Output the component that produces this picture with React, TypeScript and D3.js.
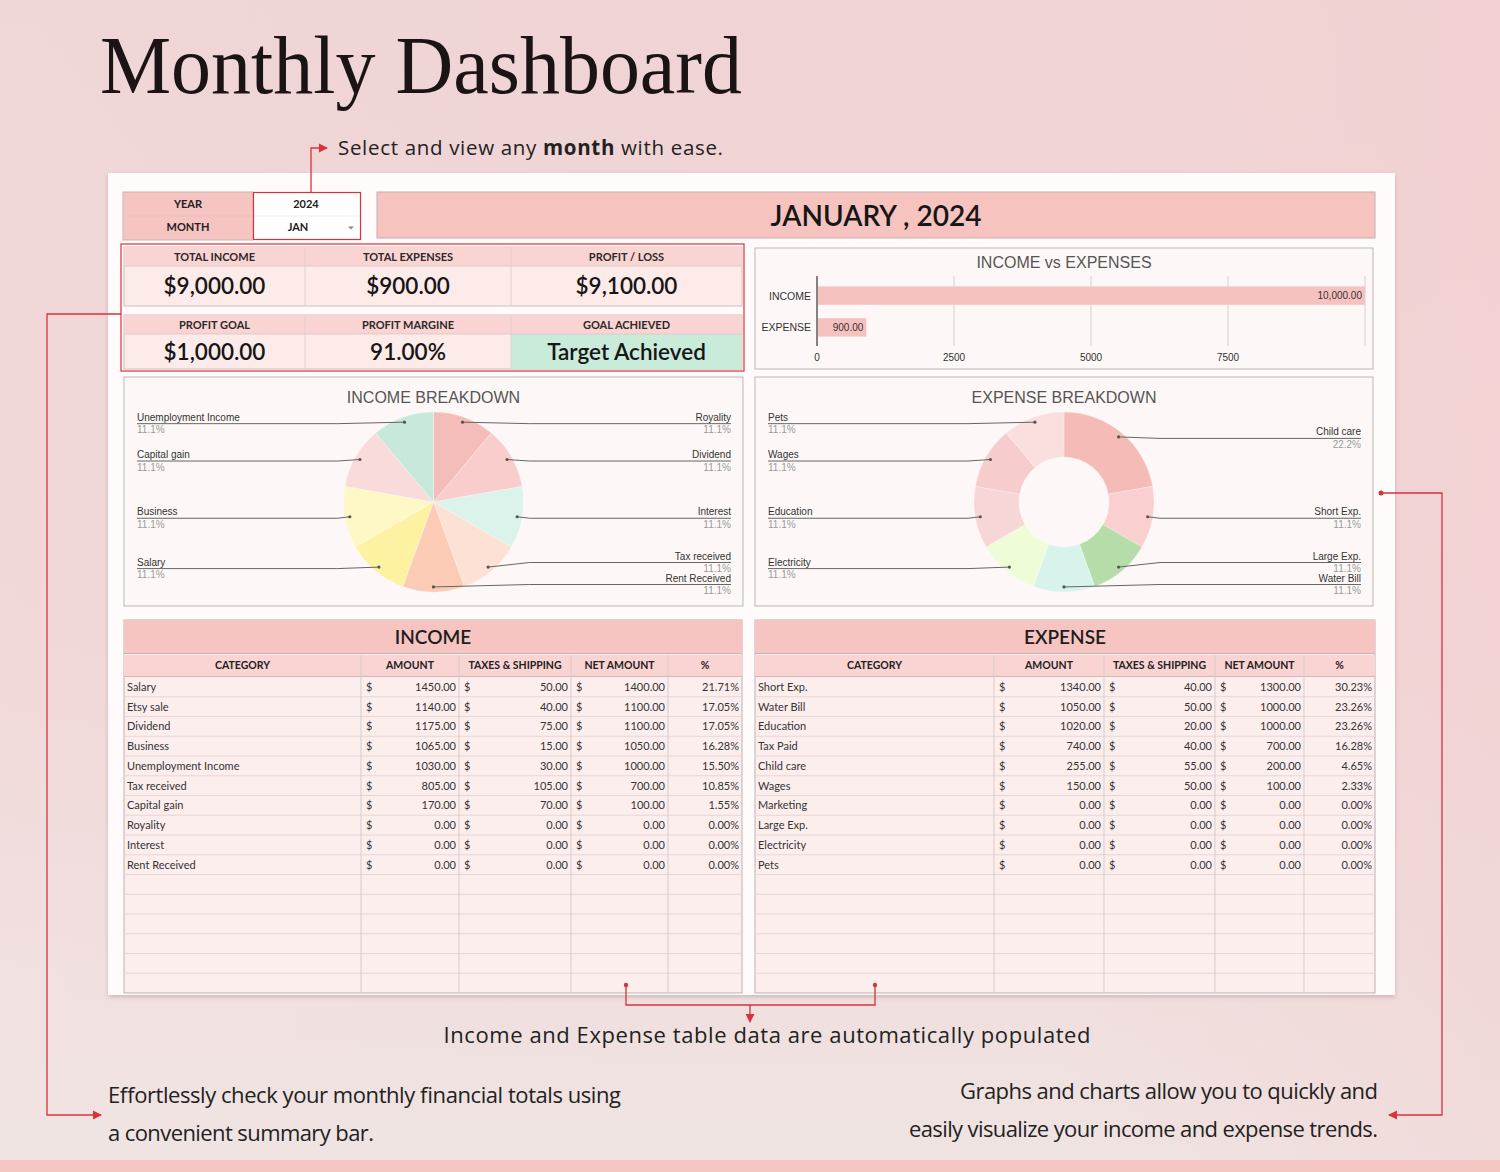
import React from 'react';
import * as d3 from 'd3';

// ---- data ----
const YEAR = '2024';
const MONTH = 'JAN';
const PERIOD_TITLE = 'JANUARY , 2024';

const summaryHeads1 = ['TOTAL INCOME', 'TOTAL  EXPENSES', 'PROFIT / LOSS'];
const summaryValues1 = ['$9,000.00', '$900.00', '$9,100.00'];
const summaryHeads2 = ['PROFIT GOAL', 'PROFIT MARGINE', 'GOAL ACHIEVED'];
const summaryValues2 = ['$1,000.00', '91.00%', 'Target Achieved'];

const compareCategories = ['INCOME', 'EXPENSE'];
const compareValues = [10000, 900];
const compareTicks = [0, 2500, 5000, 7500];

const incomeSlices = ['Royality', 'Dividend', 'Interest', 'Tax received', 'Rent Received', 'Salary', 'Business', 'Capital gain', 'Unemployment Income'];
const incomeShares = [11.1, 11.1, 11.1, 11.1, 11.1, 11.1, 11.1, 11.1, 11.1];
const incomeColors = ['#f5bdb9', '#f8cdcc', '#dcf3ec', '#fde1d4', '#fccbb5', '#fdf2a2', '#fef7c6', '#f9dbdc', '#c8e9d9'];

const expenseSlices = ['Child care', 'Short Exp.', 'Large Exp.', 'Water Bill', 'Electricity', 'Education', 'Wages', 'Pets'];
const expenseShares = [22.2, 11.1, 11.1, 11.1, 11.1, 11.1, 11.1, 11.1];
const expenseColors = ['#f5bcb7', '#f9d0cf', '#b6dcaa', '#d8f2ec', '#eefcd8', '#f6d6d6', '#f6cccc', '#fbdede'];

const tableHeads = ['CATEGORY', 'AMOUNT', 'TAXES & SHIPPING', 'NET AMOUNT', '%'];

const incomeCategories = ['Salary', 'Etsy sale', 'Dividend', 'Business', 'Unemployment Income', 'Tax received', 'Capital gain', 'Royality', 'Interest', 'Rent Received'];
const incomeAmounts = [1450, 1140, 1175, 1065, 1030, 805, 170, 0, 0, 0];
const incomeTaxes = [50, 40, 75, 15, 30, 105, 70, 0, 0, 0];
const incomeNet = [1400, 1100, 1100, 1050, 1000, 700, 100, 0, 0, 0];
const incomePct = [21.71, 17.05, 17.05, 16.28, 15.5, 10.85, 1.55, 0, 0, 0];

const expenseCategories = ['Short Exp.', 'Water Bill', 'Education', 'Tax Paid', 'Child care', 'Wages', 'Marketing', 'Large Exp.', 'Electricity', 'Pets'];
const expenseAmounts = [1340, 1050, 1020, 740, 255, 150, 0, 0, 0, 0];
const expenseTaxes = [40, 50, 20, 40, 55, 50, 0, 0, 0, 0];
const expenseNet = [1300, 1000, 1000, 700, 200, 100, 0, 0, 0, 0];
const expensePct = [30.23, 23.26, 23.26, 16.28, 4.65, 2.33, 0, 0, 0, 0];

// ---- styling ----
const UI = "Lato, 'Open Sans', sans-serif";
const NOTE = "'Open Sans', Lato, sans-serif";
const CHART = "'Liberation Sans', Arial, sans-serif";
const RED = '#d8333b';
const PINK = '#f6c4c1';
const PINK_LIGHT = '#f9d4d2';
const ROW_BG = '#fdeeee';
const GRID = '#e6d6d6';
const TABLE_ROWS = 16;

const fmt2 = d3.format('.2f');
const fmtComma = d3.format(',.2f');
const fmt1 = d3.format('.1f');

function SummaryRow({ y0, headH, valH, heads, values }) {
  const cols = [124, 305, 511, 742];
  return (
    <g>
      <rect x={cols[0]} y={y0} width={cols[3] - cols[0]} height={headH + valH} fill="#fdebea" stroke="#cdbdbd" />
      <rect x={cols[0]} y={y0} width={cols[3] - cols[0]} height={headH} fill={PINK_LIGHT} />
      {heads.map((h, i) => {
        const cx = (cols[i] + cols[i + 1]) / 2;
        const green = values[i] === 'Target Achieved';
        return (
          <g key={h}>
            {green && <rect x={cols[i]} y={y0 + headH} width={cols[i + 1] - cols[i]} height={valH} fill="#c9ebd9" />}
            {i > 0 && <line x1={cols[i]} x2={cols[i]} y1={y0} y2={y0 + headH + valH} stroke="#e2cfcf" />}
            <text x={cx} y={y0 + headH / 2 + 4} textAnchor="middle" fontSize={11} fontWeight={700} fill="#2a2a2a">{h}</text>
            <text x={cx} y={y0 + headH + valH / 2 + 8} textAnchor="middle" fontSize={22.5} fontWeight={600} fill="#161616">{values[i]}</text>
          </g>
        );
      })}
      <line x1={cols[0]} x2={cols[3]} y1={y0 + headH} y2={y0 + headH} stroke="#e0caca" />
    </g>
  );
}

function CompareChart() {
  const x0 = 755, x1 = 1373, y0 = 248, y1 = 369;
  const x = d3.scaleLinear().domain([0, 10000]).range([817, 1365]);
  const y = d3.scaleBand().domain(compareCategories).range([280, 343]).paddingInner(0.42).paddingOuter(0.2);
  return (
    <g fontFamily={CHART}>
      <rect x={x0} y={y0} width={x1 - x0} height={y1 - y0} fill="#fdf8f7" stroke="#bdb5b5" />
      <text x={(x0 + x1) / 2} y={268} textAnchor="middle" fontSize={16} fill="#555">INCOME vs EXPENSES</text>
      {[...compareTicks, 10000].map(t => (
        <line key={t} x1={x(t)} x2={x(t)} y1={276} y2={346} stroke={t === 0 ? '#333' : '#d4d0d0'} strokeWidth={t === 0 ? 1.2 : 1} />
      ))}
      {compareTicks.map(t => (
        <text key={t} x={x(t)} y={361} textAnchor="middle" fontSize={10} fill="#333">{t}</text>
      ))}
      {compareCategories.map((c, i) => (
        <g key={c}>
          <rect x={x(0) + 1} y={y(c)} width={x(compareValues[i]) - x(0) - 1} height={y.bandwidth()} fill="#f6c2bf" />
          <text x={811} y={y(c) + y.bandwidth() / 2 + 4} textAnchor="end" fontSize={10.5} fill="#333">{c}</text>
          <text x={x(compareValues[i]) - 3} y={y(c) + y.bandwidth() / 2 + 3.5} textAnchor="end" fontSize={10} fill="#333">{fmtComma(compareValues[i])}</text>
        </g>
      ))}
    </g>
  );
}

function Breakdown({ title, x0, x1, labels, shares, colors, inner }) {
  const y0 = 377, y1 = 606;
  const cx = (x0 + x1) / 2, cy = 502, R = 90;
  const arcs = d3.pie<number>().sort(null).value(d => d)(shares);
  const arcGen = d3.arc<d3.PieArcDatum<number>>().innerRadius(inner).outerRadius(R);
  const dotArc = d3.arc<d3.PieArcDatum<number>>().innerRadius(R * 0.944).outerRadius(R * 0.944);
  const items = arcs.map((a, i) => {
    const [dx, dy] = dotArc.centroid(a);
    const mid = (a.startAngle + a.endAngle) / 2;
    return { i, x: cx + dx, y: cy + dy, lineY: cy + dy, side: mid <= Math.PI + 1e-6 ? 'right' : 'left' };
  });
  ['left', 'right'].forEach(side => {
    let limit = y1 - 23;
    items.filter(d => d.side === side).sort((a, b) => b.y - a.y).forEach(d => {
      d.lineY = Math.min(d.y, limit);
      limit = d.lineY - 22;
    });
  });
  const leftX = x0 + 13, rightX = x1 - 12;
  return (
    <g fontFamily={CHART}>
      <rect x={x0} y={y0} width={x1 - x0} height={y1 - y0} fill="#fdf8f7" stroke="#bdb5b5" />
      <text x={cx} y={403} textAnchor="middle" fontSize={16} fill="#555">{title}</text>
      <g transform={`translate(${cx},${cy})`}>
        {arcs.map((a, i) => (
          <path key={labels[i]} d={arcGen(a) || ''} fill={colors[i]} stroke="#fff" strokeOpacity={0.5} strokeWidth={0.5} />
        ))}
      </g>
      {items.map(d => {
        const right = d.side === 'right';
        const knee = right ? cx + R + 6 : cx - R - 6;
        const end = right ? rightX : leftX;
        const tx = right ? rightX : leftX;
        const anchor = right ? 'end' : 'start';
        const ly = d.lineY + 1.5;
        return (
          <g key={labels[d.i]}>
            <path d={`M${d.x},${d.y}L${knee},${ly}H${end}`} fill="none" stroke="#666" strokeWidth={1} />
            <circle cx={d.x} cy={d.y} r={1.6} fill="#555" />
            <text x={tx} y={ly - 3} textAnchor={anchor} fontSize={10} fill="#333">{labels[d.i]}</text>
            <text x={tx} y={ly + 9.5} textAnchor={anchor} fontSize={10} fill="#9a9a9a">{fmt1(shares[d.i])}%</text>
          </g>
        );
      })}
    </g>
  );
}

function DataTable({ title, cols, categories, amounts, taxes, net, pct }) {
  const rows = d3.scaleBand<number>().domain(d3.range(TABLE_ROWS)).range([677, 993]);
  const left = cols[0], right = cols[5];
  const money = (v, c0, c1, key) => (
    <g key={key}>
      <text x={c0 + 5} fontSize={11}>$</text>
      <text x={c1 - 3} textAnchor="end" fontSize={11}>{fmt2(v)}</text>
    </g>
  );
  return (
    <g fontFamily={UI}>
      <rect x={left} y={620} width={right - left} height={373} fill={ROW_BG} stroke="#bdb1b1" />
      <rect x={left} y={620} width={right - left} height={33} fill={PINK} />
      <line x1={left} x2={right} y1={653.5} y2={653.5} stroke="#c9b2b2" />
      <text x={(left + right) / 2} y={644} textAnchor="middle" fontSize={19} fontWeight={600} fill="#1d1d1d">{title}</text>
      <rect x={left} y={655} width={right - left} height={21} fill={PINK_LIGHT} />
      {tableHeads.map((h, i) => (
        <text key={h} x={(cols[i] + cols[i + 1]) / 2} y={669} textAnchor="middle" fontSize={10.5} fontWeight={700} fill="#222">{h}</text>
      ))}
      <line x1={left} x2={right} y1={676.5} y2={676.5} stroke="#cdb9b9" />
      {d3.range(1, TABLE_ROWS).map(r => (
        <line key={r} x1={left} x2={right} y1={rows(r)} y2={rows(r)} stroke={GRID} />
      ))}
      {cols.slice(1, 5).map(c => (
        <line key={c} x1={c} x2={c} y1={655} y2={993} stroke="#d8cbcb" />
      ))}
      {categories.map((c, r) => {
        const cy = (rows(r) || 0) + rows.bandwidth() / 2 + 4;
        return (
          <g key={c} transform={`translate(0,${cy})`} fill="#333">
            <text x={left + 3} fontSize={11}>{c}</text>
            {money(amounts[r], cols[1], cols[2], 'a')}
            {money(taxes[r], cols[2], cols[3], 't')}
            {money(net[r], cols[3], cols[4], 'n')}
            <text x={cols[5] - 3} textAnchor="end" fontSize={11}>{fmt2(pct[r])}%</text>
          </g>
        );
      })}
    </g>
  );
}

export default function App() {
  return (
    <svg width={1500} height={1172} viewBox="0 0 1500 1172" style={{ position: 'absolute', left: 0, top: 0, display: 'block' }} fontFamily={UI}>
      <defs>
        <linearGradient id="bg" x1="0" y1="0" x2="0" y2="1">
          <stop offset="0" stopColor="#f0d4d5" />
          <stop offset="0.55" stopColor="#f1d6d7" />
          <stop offset="1" stopColor="#efe4e2" />
        </linearGradient>
        <linearGradient id="bgSide" x1="0" y1="0" x2="1" y2="0">
          <stop offset="0" stopColor="#fff" stopOpacity={0.05} />
          <stop offset="0.7" stopColor="#f5cfd1" stopOpacity={0} />
          <stop offset="1" stopColor="#f3cbce" stopOpacity={0.35} />
        </linearGradient>
        <filter id="shadow" x="-5%" y="-5%" width="110%" height="110%">
          <feDropShadow dx="0" dy="2" stdDeviation="2" floodColor="#8a6a6a" floodOpacity="0.35" />
        </filter>
        <marker id="arrow" viewBox="0 0 10 10" refX="9" refY="5" markerWidth="7" markerHeight="7" orient="auto">
          <path d="M0,0L10,5L0,10z" fill={RED} />
        </marker>
      </defs>

      <rect width={1500} height={1172} fill="url(#bg)" />
      <rect width={1500} height={1172} fill="url(#bgSide)" />
      <rect y={1160} width={1500} height={12} fill="#f5c6c4" />

      <text x={100} y={93} fontFamily="'Liberation Serif', 'DejaVu Serif', serif" fontSize={82} fill="#1a1414" textLength={642} lengthAdjust="spacingAndGlyphs">Monthly Dashboard</text>

      <text x={338} y={155} fontFamily={NOTE} fontSize={20.5} fill="#222" textLength={385}>
        Select and view any <tspan fontWeight={700}>month</tspan> with ease.
      </text>

      {/* dashboard sheet */}
      <rect x={108} y={173} width={1287} height={822} fill="#fffbfa" filter="url(#shadow)" />

      {/* year / month selector */}
      <g>
        <rect x={123} y={192} width={130} height={48} fill={PINK} stroke="#c8b4b4" />
        <line x1={123} x2={253} y1={216} y2={216} stroke="#e7c2c0" />
        <rect x={253} y={192} width={108} height={48} fill="#fff" />
        <line x1={253} x2={361} y1={216} y2={216} stroke="#eee" />
        <text x={188} y={208} textAnchor="middle" fontSize={11} fontWeight={700} fill="#222">YEAR</text>
        <text x={188} y={231} textAnchor="middle" fontSize={11} fontWeight={700} fill="#222">MONTH</text>
        <text x={306} y={208} textAnchor="middle" fontSize={11} fontWeight={700} fill="#222">{YEAR}</text>
        <text x={298} y={231} textAnchor="middle" fontSize={11} fontWeight={700} fill="#222">{MONTH}</text>
        <path d="M348,226.5h6l-3,3z" fill="#888" />
        <rect x={253.5} y={192.5} width={107} height={47} fill="none" stroke={RED} strokeWidth={1.2} />
      </g>

      <rect x={377} y={192} width={998} height={46} fill="#f7c3bf" stroke="#c7aeae" />
      <text x={876} y={226} textAnchor="middle" fontSize={28} fontWeight={600} fill="#161616">{PERIOD_TITLE}</text>

      {/* summary bar */}
      <SummaryRow y0={247} headH={19} valH={40} heads={summaryHeads1} values={summaryValues1} />
      <SummaryRow y0={315} headH={19} valH={35} heads={summaryHeads2} values={summaryValues2} />
      <rect x={121} y={244} width={623} height={127} fill="none" stroke={RED} strokeWidth={1.2} />

      <CompareChart />
      <Breakdown title="INCOME BREAKDOWN" x0={124} x1={743} labels={incomeSlices} shares={incomeShares} colors={incomeColors} inner={0} />
      <Breakdown title="EXPENSE BREAKDOWN" x0={755} x1={1373} labels={expenseSlices} shares={expenseShares} colors={expenseColors} inner={45} />

      <DataTable title="INCOME" cols={[124, 361, 459, 571, 668, 742]} categories={incomeCategories} amounts={incomeAmounts} taxes={incomeTaxes} net={incomeNet} pct={incomePct} />
      <DataTable title="EXPENSE" cols={[755, 994, 1104, 1215, 1304, 1375]} categories={expenseCategories} amounts={expenseAmounts} taxes={expenseTaxes} net={expenseNet} pct={expensePct} />

      {/* red callout connectors */}
      <g fill="none" stroke={RED} strokeWidth={1.3}>
        <path d="M311,192V148H327" markerEnd="url(#arrow)" />
        <path d="M121,314H47V1115H101" markerEnd="url(#arrow)" />
        <path d="M1381,493H1442V1115H1389" markerEnd="url(#arrow)" />
        <path d="M626,985V1005H875V985" />
        <path d="M750,1005V1022" markerEnd="url(#arrow)" />
      </g>
      <g fill={RED}>
        <circle cx={1381} cy={493} r={2.5} />
        <circle cx={626} cy={985} r={2.2} />
        <circle cx={875} cy={985} r={2.2} />
      </g>

      {/* notes */}
      <g fontFamily={NOTE} fontSize={22} fill="#222">
        <text x={767} y={1043} textAnchor="middle" textLength={647}>Income and Expense table data are automatically populated</text>
        <text x={108} y={1103} textLength={513}>Effortlessly check your monthly financial totals using</text>
        <text x={108} y={1141} textLength={266}>a convenient summary bar.</text>
        <text x={1378} y={1099} textAnchor="end" textLength={418}>Graphs and charts allow you to quickly and</text>
        <text x={1378} y={1137} textAnchor="end" textLength={469}>easily visualize your income and expense trends.</text>
      </g>
    </svg>
  );
}
